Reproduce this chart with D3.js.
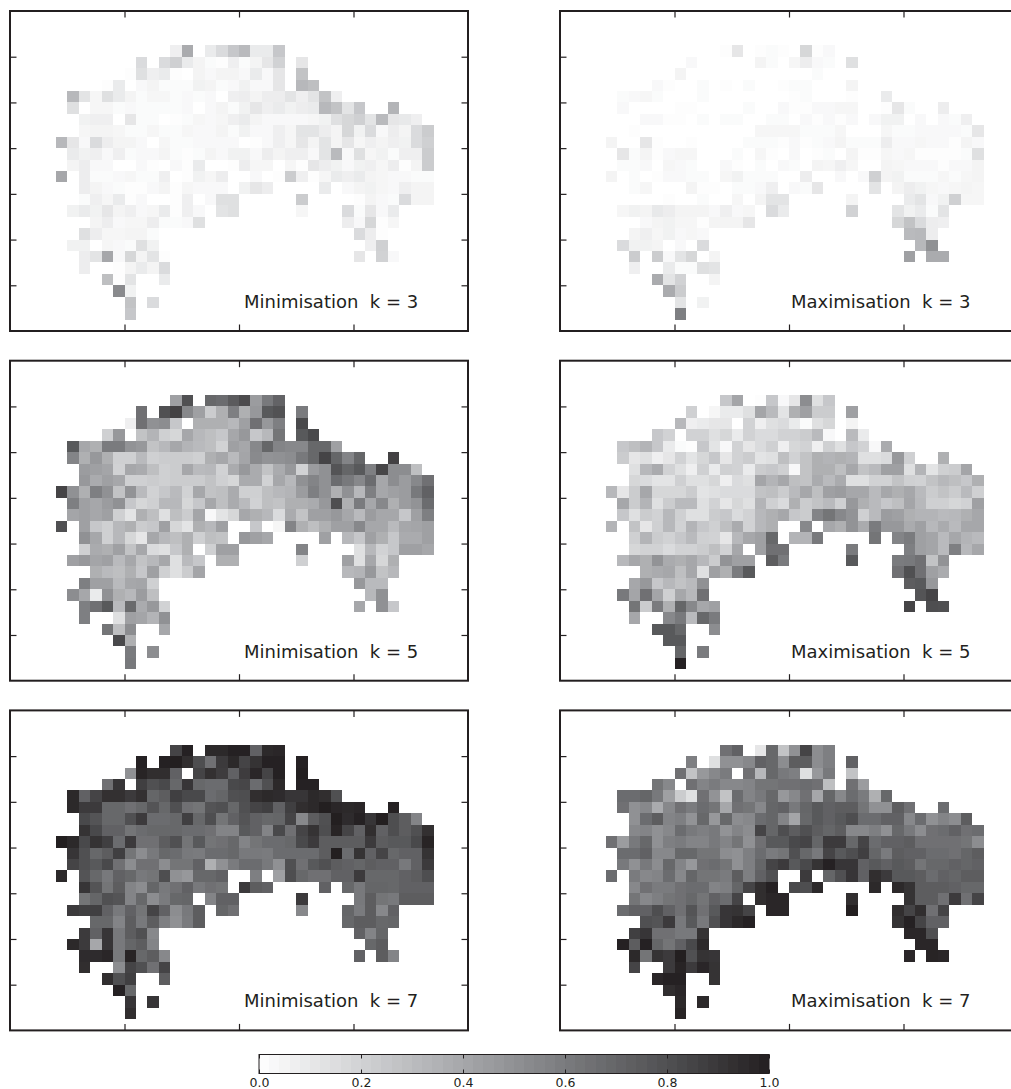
<!DOCTYPE html>
<html>
<head>
<meta charset="utf-8">
<script src="https://d3js.org/d3.v7.min.js"></script>
<style>
    body { margin: 0; background: #fff; }
    svg { display: block; }
    text { font-family: "DejaVu Sans"; fill: #231f20; }
</style>
</head>
<body>
<svg id="chart" width="1011" height="1089"></svg>
<script>
// grid cells that hold data: [row, [[firstCol, lastCol], ...]]
const gridRows = [
    [3, [[14,15],[17,23]]], [4, [[11,11],[13,23],[25,25]]], [5, [[10,14],[16,23],[25,25]]],
    [6, [[8,9],[11,23],[25,26]]], [7, [[5,28]]], [8, [[5,30],[33,33]]], [9, [[6,35]]],
    [10, [[6,36]]], [11, [[4,36]]], [12, [[5,36]]], [13, [[5,36]]],
    [14, [[4,4],[6,18],[21,21],[23,36]]], [15, [[6,18],[20,22],[27,27],[29,36]]],
    [16, [[6,15],[17,19],[25,25],[30,36]]], [17, [[5,16],[18,19],[25,25],[29,33]]],
    [18, [[7,16],[29,33]]], [19, [[6,12],[30,32]]], [20, [[5,12],[31,32]]],
    [21, [[6,13],[30,30],[32,33]]], [22, [[6,6],[9,13]]], [23, [[8,10],[13,13]]],
    [24, [[9,10]]], [25, [[10,10],[12,12]]], [26, [[10,10]]]
];

// values in hundredths, one list per grid row
const minK3 = [
    [7,38,9,16,25,31,9,9,25],
    [16,16,21,9,5,2,1,7,2,5,11,20,11],
    [1,14,7,9,1,5,3,5,5,3,9,3,11,27],
    [1,9,3,5,2,2,2,6,5,2,3,6,3,3,11,32,29],
    [32,12,4,14,9,5,2,4,4,2,3,2,3,0,7,8,5,8,8,12,7,12,27,7],
    [14,0,4,4,2,3,2,2,2,2,3,0,3,5,2,6,11,7,9,6,8,9,32,27,12,25,34],
    [6,7,7,0,11,2,2,0,1,2,4,3,4,7,9,5,3,3,3,3,4,6,14,18,21,12,31,11,10,7],
    [4,5,5,4,2,2,4,2,2,4,3,3,5,2,6,3,3,7,4,12,12,8,5,18,6,16,3,8,5,16,23],
    [32,11,3,16,8,5,5,3,0,4,2,2,3,3,3,3,0,1,3,7,4,11,5,12,5,11,4,7,5,7,6,16,21],
    [9,6,7,3,7,2,3,3,5,2,1,2,5,3,6,6,3,8,5,7,7,3,12,31,3,14,4,6,2,7,7,23],
    [5,8,3,3,0,0,3,1,0,3,1,9,0,0,1,8,4,4,0,4,1,11,8,6,3,6,7,4,8,1,5,23],
    [40,8,2,2,3,4,2,2,7,0,1,6,4,8,3,1,23,7,1,4,9,7,9,5,4,3,3,2,2],
    [8,5,3,2,1,1,3,5,1,4,3,3,3,6,11,8,9,3,5,6,4,3,7,5,5],
    [2,7,4,9,1,3,0,0,1,7,3,14,14,23,1,5,3,2,16,5,5],
    [6,9,6,11,5,7,3,4,9,1,7,3,12,14,4,16,2,11,3,9],
    [5,8,3,4,4,8,2,2,3,14,8,3,18,1,4],
    [14,8,4,4,5,5,2,16,8,1],
    [6,6,0,4,3,2,14,6,7,21],
    [8,12,40,3,18,5,12,1,11,20,3],
    [8,1,5,9,5,16],
    [29,1,12,9],
    [53,6],
    [27,16],
    [25]
];
const minK5 = [
    [43,80,69,67,75,82,45,61,71],
    [65,80,86,54,43,23,36,58,36,47,76,79,60],
    [7,65,50,52,25,36,36,36,32,43,65,47,58,83],
    [21,47,27,34,21,18,40,32,29,25,40,47,25,32,63,76,83],
    [76,40,36,60,60,49,47,27,32,40,34,31,29,20,43,40,54,70,56,54,54,69,69,43],
    [56,36,47,36,21,21,31,21,23,23,23,21,36,40,31,41,53,49,50,52,61,69,85,70,56,70,86],
    [45,43,41,20,40,38,29,21,23,40,31,32,20,38,47,38,27,38,47,20,45,50,78,70,76,58,84,52,52,29],
    [47,38,43,40,21,21,23,21,23,23,23,27,21,18,38,38,20,40,32,50,56,50,67,61,54,67,40,52,45,54,65],
    [85,50,36,58,50,27,49,31,20,25,31,20,40,27,29,38,21,21,29,32,34,45,58,50,36,50,32,58,40,43,45,61,72],
    [58,43,40,45,50,25,18,21,32,32,18,25,40,29,38,31,20,29,27,36,36,38,47,81,36,60,40,54,36,45,49,67],
    [41,43,40,43,21,12,36,29,14,29,23,41,3,12,18,40,36,32,16,38,27,43,43,47,40,31,45,40,40,25,43,58],
    [80,43,25,21,32,36,23,25,43,18,12,36,32,43,25,4,56,36,29,36,43,43,54,40,40,31,40,41,43],
    [50,40,21,32,18,11,40,32,29,36,21,29,27,47,43,40,43,32,25,43,36,25,38,38,43],
    [21,38,36,43,27,40,16,14,25,36,21,43,43,56,14,32,20,25,43,43,40],
    [43,47,41,43,31,40,27,32,40,14,31,25,36,36,21,43,14,40,18,36],
    [36,31,29,36,25,43,21,14,23,41,32,34,47,27,32],
    [58,43,43,31,40,41,21,47,31,31],
    [52,40,9,50,36,32,45,29,32,50],
    [58,65,76,31,68,38,47,20,40,50,25],
    [58,14,43,41,34,50],
    [63,29,52,40],
    [83,36],
    [60,52],
    [61]
];
const minK7 = [
    [85,99,96,96,99,99,72,96,97],
    [99,99,100,94,81,65,89,96,85,92,99,99,99],
    [50,98,94,94,72,85,93,88,72,88,97,85,99,100],
    [65,91,87,80,83,69,91,69,67,67,83,84,67,80,96,99,99],
    [96,72,85,93,93,89,93,70,74,87,83,83,67,70,80,81,94,96,95,91,91,96,94,80],
    [96,89,89,69,69,65,69,78,69,80,65,63,78,80,69,80,85,87,72,87,94,96,100,97,96,97,99],
    [83,78,69,69,80,89,67,67,69,87,69,81,63,72,78,72,69,70,85,54,74,80,100,95,99,91,100,81,74,56],
    [92,83,72,72,63,67,69,69,69,67,67,65,56,56,76,72,56,83,65,85,92,81,98,85,72,94,72,81,74,80,93],
    [100,96,83,92,87,67,89,65,65,74,80,63,76,63,65,69,56,63,67,67,69,83,89,74,74,74,74,89,74,76,76,83,98],
    [91,80,69,74,87,63,52,61,69,67,61,60,67,67,69,61,61,60,67,67,67,67,74,100,67,92,72,85,69,72,72,92],
    [85,80,76,83,65,52,65,65,52,63,63,72,36,50,60,67,67,61,50,80,65,76,80,74,72,70,74,72,72,61,72,89],
    [96,78,69,61,72,69,61,63,81,50,47,69,69,72,58,43,81,69,65,65,72,72,89,69,69,69,72,74,81],
    [91,78,63,74,56,52,70,61,65,72,61,65,63,89,74,72,72,69,61,70,70,69,72,72,72],
    [63,70,80,78,56,69,52,60,69,70,56,72,72,89,61,74,63,61,74,74,74],
    [89,87,87,72,61,72,63,85,72,52,61,74,70,65,54,70,60,74,54,72],
    [69,69,56,74,61,74,58,50,60,74,69,74,74,69,70],
    [89,72,91,61,74,80,54,72,56,70],
    [96,89,40,91,61,70,74,56,69,74],
    [95,95,97,61,98,69,74,54,72,74,56],
    [94,52,85,80,65,85],
    [94,80,87,74],
    [99,69],
    [91,91],
    [94]
];
const maxK3 = [
    [1,11,1,2,1,0,18,1,3],
    [3,0,0,0,0,5,2,0,4,8,3,2,14],
    [5,0,0,0,0,0,0,0,0,0,0,2,0,0],
    [3,1,0,2,0,1,0,2,0,0,1,2,2,0,0,5,0],
    [2,3,4,2,0,0,0,2,0,0,0,0,0,0,0,1,2,0,0,0,1,0,0,9],
    [3,0,0,0,0,1,1,0,0,0,0,2,0,0,3,1,1,3,3,4,4,0,0,1,11,2,8],
    [0,3,3,1,1,0,2,0,2,2,0,0,2,2,0,3,1,3,1,3,0,3,6,6,0,3,0,3,2,7],
    [1,0,0,0,0,0,0,0,0,0,0,4,4,4,4,2,2,2,4,0,0,0,4,2,2,3,3,3,3,2,11],
    [5,0,0,11,1,0,0,1,0,0,0,0,2,2,2,1,3,1,2,3,5,2,2,2,8,3,3,4,3,3,1,5,3],
    [11,2,5,1,3,4,4,0,0,0,2,0,4,1,0,3,0,1,2,0,5,1,1,4,3,4,1,1,1,1,2,14],
    [2,2,3,0,4,3,2,0,0,3,1,0,2,0,3,2,0,5,4,7,4,0,0,5,4,3,3,3,1,3,3,5],
    [5,2,0,1,3,3,2,2,0,4,6,2,2,2,8,0,3,0,3,21,5,6,2,2,2,4,2,4,5],
    [2,4,0,0,0,5,1,1,0,2,2,3,7,3,2,11,12,5,8,6,4,3,4,5,4],
    [0,0,0,1,0,0,2,0,0,4,5,12,12,5,9,12,3,6,21,4,4],
    [4,6,5,10,8,5,5,5,3,7,3,4,16,9,20,12,6,9,2,12],
    [3,5,6,4,4,1,5,5,5,11,18,27,16,8,7],
    [5,7,4,6,3,4,3,31,32,8],
    [16,6,6,5,0,3,0,16,32,50],
    [23,0,23,3,12,18,0,5,43,38,38],
    [7,9,2,2,14,12],
    [38,12,20,5],
    [38,23],
    [12,6],
    [58]
];
const maxK5 = [
    [25,41,1,25,3,11,52,14,25],
    [21,4,9,9,14,41,31,12,36,43,23,23,43],
    [32,7,9,11,11,20,7,14,16,9,2,14,18,5],
    [25,20,20,20,14,18,9,20,16,16,20,20,23,31,3,31,9],
    [25,29,34,25,9,2,1,25,12,3,20,11,16,21,7,18,20,7,21,14,25,20,3,38],
    [23,11,14,7,11,20,12,18,25,11,20,23,12,14,29,20,27,36,34,36,34,14,14,16,47,21,36],
    [14,32,38,20,14,7,21,9,21,20,9,23,25,21,3,27,36,36,29,40,27,31,43,43,14,34,12,21,23,41],
    [18,16,12,12,21,14,14,18,7,16,14,41,34,40,29,27,38,31,38,14,14,20,20,27,21,20,27,32,29,25,36],
    [32,11,23,40,18,18,18,23,12,14,16,16,16,27,29,23,31,40,29,43,45,40,40,31,40,36,40,31,23,27,23,31,21],
    [40,23,34,14,23,31,31,14,20,11,18,14,34,21,16,36,23,27,31,21,47,36,31,25,29,41,32,21,21,18,20,43],
    [25,14,23,20,32,21,14,14,23,25,16,20,32,36,40,25,23,56,63,54,49,21,31,45,43,36,34,34,31,32,36,40],
    [34,27,11,21,32,20,34,25,21,29,38,20,32,36,54,40,36,49,38,60,47,47,38,43,32,38,31,40,40],
    [21,34,23,20,25,31,21,20,11,32,40,43,69,34,34,61,63,56,60,43,41,31,40,34,31],
    [18,20,20,16,20,20,23,29,20,40,43,65,65,60,58,43,41,31,58,32,40],
    [32,40,36,49,38,36,40,32,23,49,43,43,74,60,76,60,61,65,27,49],
    [36,38,40,29,40,14,43,36,60,76,65,80,65,43,38],
    [40,47,25,32,27,31,50,74,76,47],
    [61,41,65,41,21,40,32,65,78,85],
    [63,23,60,36,70,54,40,43,85,81,80],
    [40,54,61,31,69,60],
    [76,76,69,52],
    [76,76],
    [70,60],
    [99]
];
const maxK7 = [
    [65,72,11,69,27,50,85,52,58],
    [58,14,50,50,54,72,69,52,74,74,52,58,72],
    [65,27,47,54,60,65,32,69,61,58,14,47,61,27],
    [63,54,65,56,60,54,54,56,63,63,65,65,67,65,29,65,45],
    [67,67,70,61,43,23,14,65,49,27,67,56,61,69,47,54,65,40,70,54,67,60,36,69],
    [65,50,54,38,54,65,60,67,63,40,65,63,54,70,72,61,70,76,72,74,74,63,50,50,74,65,67],
    [50,67,74,56,58,49,69,47,69,52,54,67,70,56,41,69,76,72,76,81,67,67,72,72,54,67,50,56,52,74],
    [54,56,50,54,67,61,58,61,49,56,52,85,70,81,74,80,74,70,74,54,54,58,50,69,61,52,65,67,72,65,67],
    [65,45,61,69,50,58,60,56,56,61,56,63,50,65,76,76,83,85,70,89,89,69,85,67,72,72,74,65,65,65,65,63,52],
    [67,67,72,54,54,69,69,63,63,52,50,58,67,60,63,80,69,61,85,76,81,87,70,60,74,72,72,67,67,65,70,74],
    [61,50,61,52,69,56,47,65,67,63,50,58,70,85,89,76,83,92,99,91,91,72,76,72,76,74,63,69,69,72,70,72],
    [67,60,54,56,67,54,70,63,63,60,74,58,72,80,89,70,80,91,72,94,89,76,76,74,67,72,70,74,74],
    [54,65,60,60,65,67,67,56,58,70,85,94,99,83,81,96,96,96,92,74,74,74,72,69,69],
    [63,54,58,63,65,69,63,72,67,85,94,97,97,94,92,74,74,65,89,65,85],
    [67,72,72,81,72,65,78,65,76,91,92,85,97,97,100,94,85,94,65,85],
    [80,78,89,61,76,61,80,91,96,99,92,99,85,72,72],
    [87,91,65,65,61,61,92,97,97,80],
    [99,74,99,70,63,72,83,96,97,97],
    [96,63,92,89,100,80,92,91,97,98,97],
    [85,89,98,89,97,92],
    [97,99,99,92],
    [94,97],
    [96,96],
    [98]
];

const panelLabels = ["Minimisation  k = 3", "Maximisation  k = 3", "Minimisation  k = 5",
                     "Maximisation  k = 5", "Minimisation  k = 7", "Maximisation  k = 7"];
const panelValues = [minK3, maxK3, minK5, maxK5, minK7, maxK7];
const xTicks = [10, 20, 30];
const yTicks = [4, 8, 12, 16, 20, 24];
const colorbarTicks = [0, 0.2, 0.4, 0.6, 0.8, 1];

const panelWidth = 458, panelHeight = 320;
const panelLeft = [10, 560];
const panelTop = [11, 360.7, 710.4];
const dark = "#231f20";

const x = d3.scaleLinear().domain([0, 40]).range([0, panelWidth]);
const y = d3.scaleLinear().domain([0, 28]).range([0, panelHeight]);
const grey = d3.scaleLinear()
    .domain([0, 0.2, 0.4, 0.6, 0.8, 1])
    .range(["#ffffff", "#d1d2d4", "#a6a7aa", "#7a7b7e", "#505052", dark]);

const svg = d3.select("#chart");

// turn a panel's row lists into {row, col, value}
const toCells = (rows) => gridRows.flatMap(([row, runs], i) => {
    const cols = runs.flatMap(([a, b]) => d3.range(a, b + 1));
    return cols.map((col, j) => ({row, col, value: rows[i][j] / 100}));
});

panelValues.forEach((rows, i) => {
    const g = svg.append("g")
        .attr("transform", `translate(${panelLeft[i % 2]},${panelTop[Math.floor(i / 2)]})`);

    g.selectAll("rect.cell")
        .data(toCells(rows))
        .join("rect")
        .attr("class", "cell")
        .attr("x", d => x(d.col))
        .attr("y", d => y(d.row))
        .attr("width", d => x(d.col + 1) - x(d.col))
        .attr("height", d => y(d.row + 1) - y(d.row))
        .attr("shape-rendering", "crispEdges")
        .attr("fill", d => grey(d.value));

    const axes = [
        [d3.axisTop(x).tickValues(xTicks), 0, 0],
        [d3.axisBottom(x).tickValues(xTicks), 0, panelHeight],
        [d3.axisLeft(y).tickValues(yTicks), 0, 0],
        [d3.axisRight(y).tickValues(yTicks), panelWidth, 0]
    ];
    axes.forEach(([axis, tx, ty]) => {
        const a = g.append("g")
            .attr("transform", `translate(${tx},${ty})`)
            .call(axis.tickSize(-6.5).tickSizeOuter(0).tickFormat(""));
        a.select(".domain").remove();
        a.selectAll("line").attr("stroke", dark).attr("stroke-width", 1.2);
    });

    g.append("rect")
        .attr("width", panelWidth)
        .attr("height", panelHeight)
        .attr("fill", "none")
        .attr("stroke", dark)
        .attr("stroke-width", 2);

    g.append("text")
        .attr("x", i % 2 ? 231 : 234)
        .attr("y", 297)
        .style("font-size", "18px")
        .style("white-space", "pre")
        .text(panelLabels[i]);
});

// colorbar
const barX = d3.scaleLinear().domain([0, 1]).range([259, 769]);
const barTop = 1054.5, barHeight = 19;
const barSteps = d3.range(50);
const bar = svg.append("g");

bar.selectAll("rect.step")
    .data(barSteps)
    .join("rect")
    .attr("class", "step")
    .attr("x", d => barX(d / 50))
    .attr("y", barTop)
    .attr("width", d => barX((d + 1) / 50) - barX(d / 50))
    .attr("height", barHeight)
    .attr("shape-rendering", "crispEdges")
    .attr("fill", d => grey((d + 0.5) / 50));

bar.append("rect")
    .attr("x", barX(0))
    .attr("y", barTop)
    .attr("width", barX(1) - barX(0))
    .attr("height", barHeight)
    .attr("fill", "none")
    .attr("stroke", dark)
    .attr("stroke-width", 1);

const barAxis = bar.append("g")
    .attr("transform", `translate(0,${barTop + barHeight})`)
    .call(d3.axisBottom(barX).tickValues(colorbarTicks).tickSize(-4).tickSizeOuter(0).tickPadding(4.5).tickFormat(d3.format(".1f")));
barAxis.select(".domain").remove();
barAxis.selectAll("line").attr("stroke", dark);
barAxis.selectAll("text").style("font-size", "12.5px").style("font-family", "DejaVu Sans");

const barAxisTop = bar.append("g")
    .attr("transform", `translate(0,${barTop})`)
    .call(d3.axisTop(barX).tickValues(colorbarTicks).tickSize(-4).tickSizeOuter(0).tickFormat(""));
barAxisTop.select(".domain").remove();
barAxisTop.selectAll("line").attr("stroke", dark);
</script>
</body>
</html>
